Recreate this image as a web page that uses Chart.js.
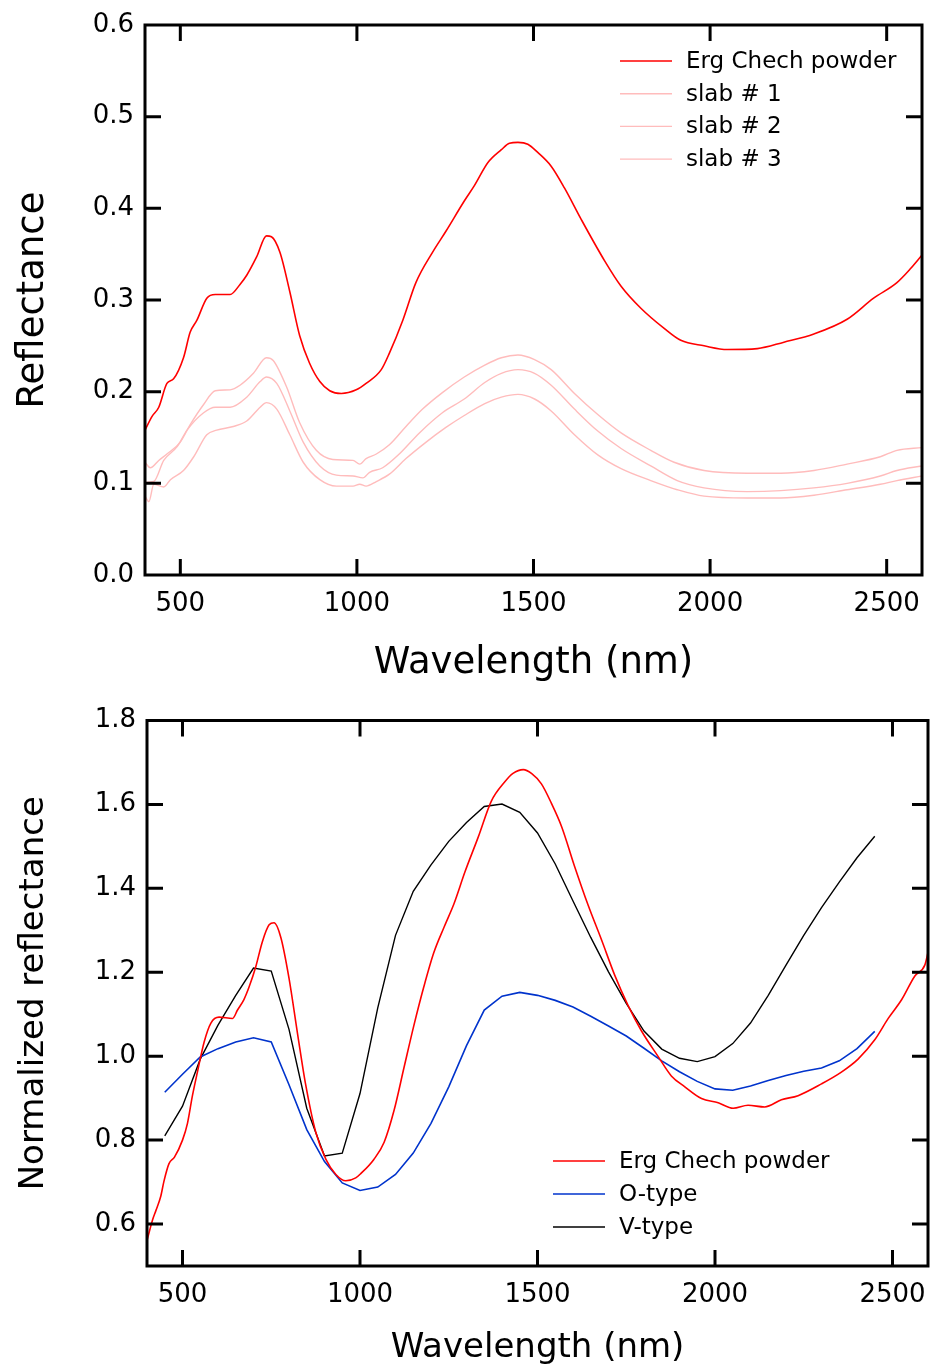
<!DOCTYPE html>
<html>
<head>
<meta charset="utf-8">
<script src="https://cdn.jsdelivr.net/npm/chart.js@4.4.1/dist/chart.umd.min.js"></script>
<style>
  html, body { margin: 0; padding: 0; background: #fff; }
  #wrap { position: relative; width: 930px; height: 1369px; }
  #wrap canvas { position: absolute; left: 0; }
  #topChart { top: 0; }
  #bottomChart { top: 690px; }
</style>
</head>
<body>
<div id="wrap">
  <canvas id="topChart" width="930" height="690"></canvas>
  <canvas id="bottomChart" width="930" height="679"></canvas>
</div>
<script>
// ---- data ----
// top panel: absolute reflectance
const powderNm = [400, 420, 439, 462, 481, 509, 528, 547, 575, 599, 641, 669, 688, 716, 744, 758, 782, 810, 838, 866, 895, 923, 956, 998, 1026, 1069, 1092, 1130, 1167, 1214, 1252, 1304, 1333, 1371, 1409, 1432, 1456, 1484, 1512, 1550, 1588, 1635, 1701, 1748, 1804, 1870, 1917, 1983, 2049, 2134, 2209, 2294, 2388, 2463, 2529, 2567, 2600];
const powderRefl = [0.158, 0.173, 0.183, 0.209, 0.214, 0.237, 0.265, 0.278, 0.302, 0.306, 0.306, 0.317, 0.327, 0.347, 0.370, 0.369, 0.352, 0.309, 0.261, 0.231, 0.211, 0.201, 0.198, 0.202, 0.209, 0.224, 0.242, 0.278, 0.319, 0.352, 0.375, 0.408, 0.425, 0.450, 0.464, 0.471, 0.472, 0.470, 0.461, 0.446, 0.422, 0.388, 0.343, 0.315, 0.291, 0.269, 0.256, 0.250, 0.246, 0.247, 0.254, 0.263, 0.279, 0.302, 0.319, 0.334, 0.349];

const slab1Nm = [400, 415, 439, 462, 500, 528, 566, 599, 641, 669, 707, 744, 763, 801, 838, 885, 932, 989, 1008, 1026, 1055, 1092, 1139, 1186, 1242, 1304, 1362, 1409, 1456, 1503, 1550, 1616, 1682, 1748, 1832, 1898, 1983, 2105, 2200, 2294, 2388, 2482, 2529, 2600];
const slab1Refl = [0.123, 0.117, 0.125, 0.132, 0.145, 0.164, 0.186, 0.201, 0.202, 0.207, 0.220, 0.237, 0.234, 0.205, 0.166, 0.136, 0.126, 0.125, 0.121, 0.127, 0.132, 0.142, 0.162, 0.181, 0.199, 0.216, 0.229, 0.237, 0.240, 0.235, 0.224, 0.198, 0.175, 0.155, 0.136, 0.123, 0.114, 0.111, 0.111, 0.114, 0.121, 0.129, 0.136, 0.139];

const slab2Nm = [400, 425, 453, 491, 519, 566, 599, 641, 688, 726, 744, 773, 810, 848, 895, 942, 989, 1017, 1036, 1073, 1120, 1177, 1242, 1304, 1362, 1409, 1456, 1503, 1550, 1616, 1682, 1748, 1832, 1907, 1983, 2105, 2200, 2294, 2388, 2482, 2529, 2600];
const slab2Refl = [0.101, 0.102, 0.125, 0.140, 0.158, 0.177, 0.183, 0.183, 0.194, 0.211, 0.216, 0.209, 0.179, 0.145, 0.119, 0.109, 0.108, 0.106, 0.112, 0.117, 0.132, 0.155, 0.177, 0.192, 0.210, 0.220, 0.224, 0.220, 0.207, 0.181, 0.157, 0.138, 0.119, 0.103, 0.095, 0.091, 0.092, 0.095, 0.100, 0.108, 0.114, 0.119];

const slab3Nm = [400, 411, 425, 453, 472, 509, 538, 575, 603, 650, 688, 726, 744, 773, 810, 848, 895, 942, 989, 1008, 1026, 1055, 1092, 1139, 1196, 1252, 1304, 1362, 1409, 1456, 1503, 1550, 1616, 1682, 1748, 1832, 1907, 1983, 2105, 2200, 2294, 2388, 2482, 2529, 2600];
const slab3Refl = [0.086, 0.080, 0.099, 0.096, 0.104, 0.114, 0.129, 0.153, 0.158, 0.162, 0.168, 0.183, 0.188, 0.181, 0.153, 0.123, 0.104, 0.097, 0.097, 0.099, 0.097, 0.102, 0.110, 0.127, 0.145, 0.161, 0.174, 0.187, 0.194, 0.197, 0.192, 0.179, 0.153, 0.131, 0.116, 0.103, 0.093, 0.086, 0.084, 0.084, 0.087, 0.093, 0.099, 0.103, 0.108];

// bottom panel: normalized reflectance
const normNm = [400, 416, 425, 439, 448, 462, 477, 500, 514, 528, 542, 561, 580, 603, 641, 655, 673, 688, 706, 725, 744, 758, 777, 800, 824, 847, 875, 904, 932, 960, 988, 1002, 1039, 1068, 1096, 1124, 1152, 1180, 1208, 1237, 1265, 1296, 1333, 1370, 1408, 1431, 1460, 1483, 1511, 1539, 1568, 1605, 1643, 1680, 1718, 1755, 1793, 1840, 1877, 1915, 1962, 2009, 2051, 2093, 2140, 2187, 2234, 2300, 2356, 2403, 2450, 2488, 2526, 2563, 2591, 2600];
const normPowder = [0.561, 0.611, 0.632, 0.667, 0.703, 0.744, 0.759, 0.800, 0.840, 0.906, 0.962, 1.034, 1.079, 1.093, 1.090, 1.110, 1.135, 1.166, 1.212, 1.273, 1.313, 1.318, 1.283, 1.186, 1.054, 0.932, 0.820, 0.754, 0.718, 0.703, 0.710, 0.720, 0.754, 0.795, 0.871, 0.973, 1.074, 1.166, 1.247, 1.308, 1.364, 1.440, 1.522, 1.608, 1.654, 1.674, 1.683, 1.674, 1.649, 1.603, 1.547, 1.451, 1.359, 1.278, 1.192, 1.121, 1.060, 0.999, 0.953, 0.927, 0.899, 0.889, 0.876, 0.883, 0.879, 0.896, 0.906, 0.934, 0.962, 0.993, 1.039, 1.090, 1.135, 1.191, 1.217, 1.247];

const typeNm = [450, 500, 550, 600, 650, 700, 750, 800, 850, 900, 950, 1000, 1050, 1100, 1150, 1200, 1250, 1300, 1350, 1400, 1450, 1500, 1550, 1600, 1650, 1700, 1750, 1800, 1850, 1900, 1950, 2000, 2050, 2100, 2150, 2200, 2250, 2300, 2350, 2400, 2450];
const oType = [0.914, 0.957, 0.998, 1.018, 1.034, 1.044, 1.034, 0.932, 0.825, 0.749, 0.698, 0.680, 0.688, 0.718, 0.769, 0.840, 0.927, 1.025, 1.110, 1.143, 1.152, 1.145, 1.133, 1.117, 1.095, 1.072, 1.048, 1.019, 0.989, 0.963, 0.940, 0.922, 0.919, 0.929, 0.942, 0.954, 0.964, 0.972, 0.989, 1.018, 1.059];
const vType = [0.810, 0.881, 0.993, 1.074, 1.145, 1.210, 1.203, 1.064, 0.876, 0.762, 0.769, 0.911, 1.115, 1.288, 1.393, 1.456, 1.512, 1.557, 1.595, 1.601, 1.581, 1.532, 1.458, 1.370, 1.283, 1.201, 1.126, 1.060, 1.017, 0.995, 0.987, 0.999, 1.030, 1.079, 1.145, 1.217, 1.288, 1.354, 1.415, 1.473, 1.524];

const topLabels = ['Erg Chech powder', 'slab # 1', 'slab # 2', 'slab # 3'];
const bottomLabels = ['Erg Chech powder', 'O-type', 'V-type'];

// tick values
const xTicks = [500, 1000, 1500, 2000, 2500];
const topYTicks = [0.0, 0.1, 0.2, 0.3, 0.4, 0.5, 0.6];
const bottomYTicks = [0.6, 0.8, 1.0, 1.2, 1.4, 1.6, 1.8];

// pair up x and y arrays into points
function pts(xs, ys) {
    return xs.map((x, i) => ({ x: x, y: ys[i] }));
}

const FONT = "'DejaVu Sans', Verdana, sans-serif";

// box around the plot with inward ticks on all four sides
const frameTicks = {
    id: 'frameTicks',
    afterDraw(chart) {
        const { ctx, chartArea: a, scales } = chart;
        const len = 16;
        ctx.save();
        ctx.strokeStyle = '#000';
        ctx.lineWidth = 3;
        ctx.beginPath();
        scales.x.ticks.forEach(t => {
            const px = scales.x.getPixelForValue(t.value);
            if (px < a.left + 3 || px > a.right - 3) return;
            ctx.moveTo(px, a.bottom); ctx.lineTo(px, a.bottom - len);
            ctx.moveTo(px, a.top); ctx.lineTo(px, a.top + len);
        });
        scales.y.ticks.forEach(t => {
            const py = scales.y.getPixelForValue(t.value);
            if (py < a.top + 3 || py > a.bottom - 3) return;
            ctx.moveTo(a.left, py); ctx.lineTo(a.left + len, py);
            ctx.moveTo(a.right, py); ctx.lineTo(a.right - len, py);
        });
        ctx.stroke();
        ctx.strokeRect(a.left, a.top, a.right - a.left, a.bottom - a.top);
        ctx.restore();
    }
};

// simple line legend inside the plot
const lineLegend = {
    id: 'lineLegend',
    afterDraw(chart, args, opts) {
        const ctx = chart.ctx;
        ctx.save();
        ctx.font = opts.font;
        ctx.textBaseline = 'middle';
        ctx.fillStyle = '#000';
        chart.data.datasets.forEach((ds, i) => {
            const y = opts.top + i * opts.rowGap;
            ctx.strokeStyle = ds.borderColor;
            ctx.lineWidth = ds.borderWidth;
            ctx.beginPath();
            ctx.moveTo(opts.left, y);
            ctx.lineTo(opts.left + opts.lineLen, y);
            ctx.stroke();
            ctx.fillText(ds.label, opts.left + opts.lineLen + opts.gap, y + 1);
        });
        ctx.restore();
    }
};

function line(label, data, color, width, smooth) {
    return {
        label: label,
        data: data,
        borderColor: color,
        borderWidth: width,
        pointRadius: 0,
        fill: false,
        cubicInterpolationMode: smooth ? 'monotone' : 'default',
        tension: 0
    };
}

function makeOptions(cfg) {
    return {
        responsive: false,
        animation: false,
        layout: { padding: cfg.padding },
        scales: {
            x: {
                type: 'linear',
                min: 400,
                max: 2600,
                afterBuildTicks: s => { s.ticks = xTicks.map(v => ({ value: v })); },
                afterFit: s => {
                    s.height = cfg.xHeight;
                    s.paddingLeft = 0;
                    s.paddingRight = 0;
                },
                grid: { display: false, drawTicks: false },
                border: { display: false },
                ticks: {
                    autoSkip: false,
                    maxRotation: 0,
                    padding: 14,
                    color: '#000',
                    font: { family: FONT, size: 26 },
                    callback: v => String(v)
                },
                title: {
                    display: true,
                    text: 'Wavelength (nm)',
                    color: '#000',
                    font: { family: FONT, size: cfg.titleSize },
                    padding: { top: 0, bottom: cfg.xTitlePad }
                }
            },
            y: {
                min: cfg.yMin,
                max: cfg.yMax,
                afterBuildTicks: s => { s.ticks = cfg.yTicks.map(v => ({ value: v })); },
                afterFit: s => {
                    s.width = cfg.yWidth;
                    s.paddingTop = 0;
                    s.paddingBottom = 0;
                },
                grid: { display: false, drawTicks: false },
                border: { display: false },
                ticks: {
                    padding: 11,
                    color: '#000',
                    font: { family: FONT, size: 26 },
                    callback: v => Number(v).toFixed(1)
                },
                title: {
                    display: true,
                    text: cfg.yTitle,
                    color: '#000',
                    font: { family: FONT, size: cfg.titleSize },
                    padding: { top: cfg.yTitlePad, bottom: 0 }
                }
            }
        },
        plugins: {
            legend: { display: false },
            tooltip: { enabled: false },
            lineLegend: cfg.legend
        }
    };
}

const red = 'rgb(255, 0, 0)';
const pink = 'rgb(255, 188, 188)';
const blue = 'rgb(0, 51, 204)';

new Chart(document.getElementById('topChart'), {
    type: 'line',
    data: {
        datasets: [
            line(topLabels[0], pts(powderNm, powderRefl), red, 1.6, true),
            line(topLabels[1], pts(slab1Nm, slab1Refl), pink, 1.4, true),
            line(topLabels[2], pts(slab2Nm, slab2Refl), pink, 1.4, true),
            line(topLabels[3], pts(slab3Nm, slab3Refl), pink, 1.4, true)
        ]
    },
    options: makeOptions({
        padding: { top: 25, right: 8, left: 0, bottom: 0 },
        xHeight: 115,
        yWidth: 145,
        yMin: 0, yMax: 0.6, yTicks: topYTicks,
        yTitle: 'Reflectance',
        titleSize: 37,
        xTitlePad: 4,
        yTitlePad: 11,
        legend: { left: 620, top: 61, rowGap: 32.7, lineLen: 52, gap: 14, font: '23px ' + FONT }
    }),
    plugins: [frameTicks, lineLegend]
});

new Chart(document.getElementById('bottomChart'), {
    type: 'line',
    data: {
        datasets: [
            line(bottomLabels[0], pts(normNm, normPowder), red, 1.6, true),
            line(bottomLabels[1], pts(typeNm, oType), blue, 1.6, false),
            line(bottomLabels[2], pts(typeNm, vType), '#000', 1.4, false)
        ]
    },
    options: makeOptions({
        padding: { top: 30.5, right: 2, left: 0, bottom: 0 },
        xHeight: 103,
        yWidth: 147,
        yMin: 0.5, yMax: 1.8, yTicks: bottomYTicks,
        yTitle: 'Normalized reflectance',
        titleSize: 34,
        xTitlePad: 0,
        yTitlePad: 14,
        legend: { left: 553, top: 471, rowGap: 33, lineLen: 52, gap: 14, font: '23px ' + FONT }
    }),
    plugins: [frameTicks, lineLegend]
});
</script>
</body>
</html>
